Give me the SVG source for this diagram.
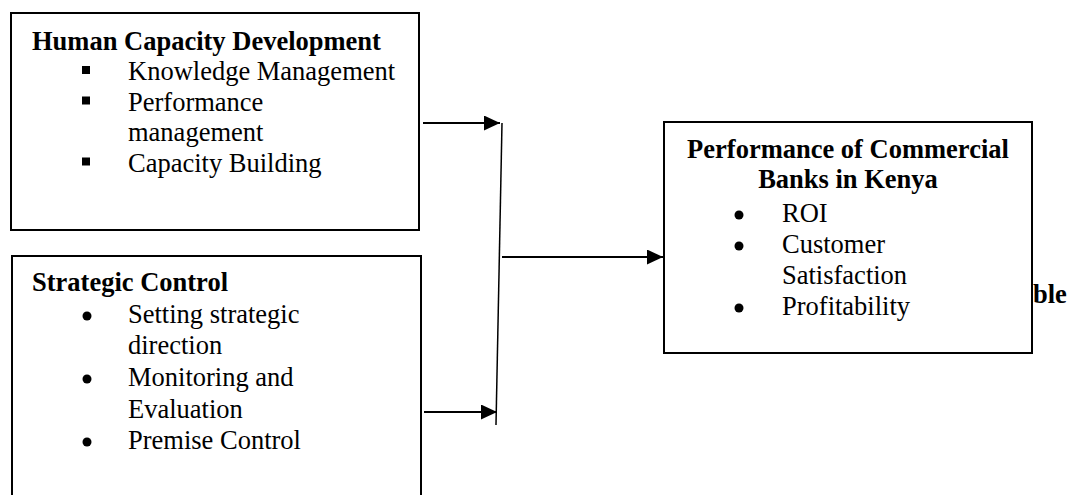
<svg xmlns="http://www.w3.org/2000/svg" width="1074" height="495" viewBox="0 0 1074 495">
  <defs>
    <marker id="ah" markerUnits="userSpaceOnUse" markerWidth="17" markerHeight="15" refX="16" refY="7.5" orient="auto">
      <path d="M0,0 L16,7.5 L0,15 Z" fill="#000"/>
    </marker>
  </defs>
  <style>
    .box { fill: #fff; stroke: #000; stroke-width: 2; }
    .t { font-family: "Liberation Serif", "Times New Roman", serif; font-size: 26.5px; fill: #000; }
    .b { font-weight: bold; }
    .conn { stroke: #000; stroke-width: 2; fill: none; }
  </style>
  <rect width="1074" height="495" fill="#fff"/>

  <g id="connectors">
    <line class="conn" x1="423" y1="123" x2="500" y2="123" marker-end="url(#ah)"/>
    <line class="conn" x1="424" y1="412" x2="497" y2="412" marker-end="url(#ah)"/>
    <line x1="502" y1="123" x2="496" y2="425" stroke="#000" stroke-width="1.5"/>
    <line class="conn" x1="502" y1="257" x2="663" y2="257" marker-end="url(#ah)"/>
  </g>

  <text class="t b" x="1033" y="303" font-size="29.5">ble</text>

  <g id="human-capacity">
    <rect class="box" x="11" y="13" width="408" height="217"/>
    <text class="t b" x="32" y="50">Human Capacity Development</text>
    <rect x="82" y="66" width="8" height="8"/>
    <text class="t" x="128" y="80">Knowledge Management</text>
    <rect x="82" y="96.5" width="8" height="8"/>
    <text class="t" x="128" y="110.5">Performance</text>
    <text class="t" x="128" y="141">management</text>
    <rect x="82" y="157.5" width="8" height="8"/>
    <text class="t" x="128" y="171.5">Capacity Building</text>
  </g>

  <g id="strategic-control">
    <rect class="box" x="12" y="256" width="409" height="260"/>
    <text class="t b" x="32" y="291">Strategic Control</text>
    <circle cx="87" cy="316" r="4.5"/>
    <text class="t" x="128" y="323">Setting strategic</text>
    <text class="t" x="128" y="354">direction</text>
    <circle cx="87" cy="379" r="4.5"/>
    <text class="t" x="128" y="386">Monitoring and</text>
    <text class="t" x="128" y="418">Evaluation</text>
    <circle cx="87" cy="442" r="4.5"/>
    <text class="t" x="128" y="449">Premise Control</text>
  </g>

  <g id="performance">
    <rect class="box" x="664" y="122" width="368" height="231"/>
    <text class="t b" x="848" y="158" text-anchor="middle">Performance of Commercial</text>
    <text class="t b" x="848" y="188" text-anchor="middle">Banks in Kenya</text>
    <circle cx="739" cy="215" r="4.5"/>
    <text class="t" x="782" y="222">ROI</text>
    <circle cx="739" cy="246" r="4.5"/>
    <text class="t" x="782" y="253">Customer</text>
    <text class="t" x="782" y="284">Satisfaction</text>
    <circle cx="739" cy="308" r="4.5"/>
    <text class="t" x="782" y="315">Profitability</text>
  </g>
</svg>
